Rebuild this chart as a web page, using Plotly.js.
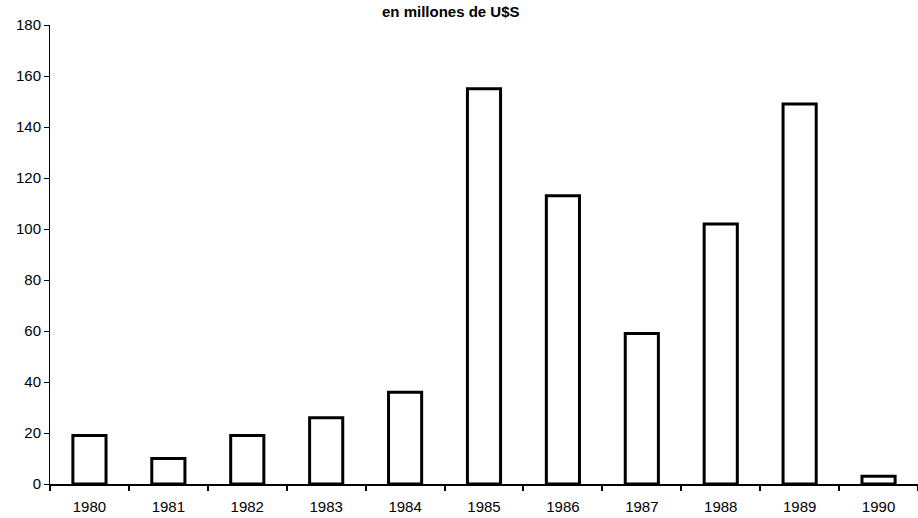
<!DOCTYPE html>
<html>
<head>
<meta charset="utf-8">
<script src="https://cdn.plot.ly/plotly-3.0.1.min.js"></script>
<style>html,body{margin:0;padding:0;background:#fff;}#chart{width:918px;height:518px;}</style>
</head>
<body>
<div id="chart"></div>
<script>
const years = ['1980','1981','1982','1983','1984','1985','1986','1987','1988','1989','1990'];
const values = [19, 10, 19, 26, 36, 155, 113, 59, 102, 149, 3];
const yTicks = [0, 20, 40, 60, 80, 100, 120, 140, 160, 180];

const trace = {
  type: 'bar',
  x: years,
  y: values,
  marker: {color: '#ffffff', line: {color: '#000000', width: 3}},
  hoverinfo: 'x+y'
};

const FONT = '"Liberation Sans", Arial, Helvetica, sans-serif';

const layout = {
  width: 918,
  height: 518,
  margin: {l: 50, r: 0, t: 25, b: 34},
  paper_bgcolor: '#ffffff',
  plot_bgcolor: '#ffffff',
  bargap: 0.58,
  showlegend: false,
  font: {family: FONT, color: '#000000', size: 15},
  title: {
    text: '<b>en millones de U$S</b>',
    font: {size: 15, family: FONT, color: '#000'},
    x: 0.491, xref: 'container', xanchor: 'center',
    y: 0.977, yref: 'container', yanchor: 'middle'
  },
  xaxis: {
    type: 'category',
    range: [-0.5, 10.5],
    showline: true, linecolor: '#000', linewidth: 2,
    ticks: 'outside', tickson: 'boundaries', ticklen: 5, tickwidth: 2, tickcolor: '#000',
    showgrid: false, zeroline: false,
    ticklabelstandoff: 8,
    tickfont: {size: 15, family: FONT}
  },
  yaxis: {
    range: [0, 180],
    tickvals: yTicks,
    showline: true, linecolor: '#000', linewidth: 1,
    ticks: 'outside', ticklen: 5, tickwidth: 1, tickcolor: '#000',
    showgrid: false, zeroline: false,
    tickfont: {size: 15, family: FONT}
  }
};

Plotly.newPlot('chart', [trace], layout, {displayModeBar: false, staticPlot: true});
</script>
</body>
</html>
